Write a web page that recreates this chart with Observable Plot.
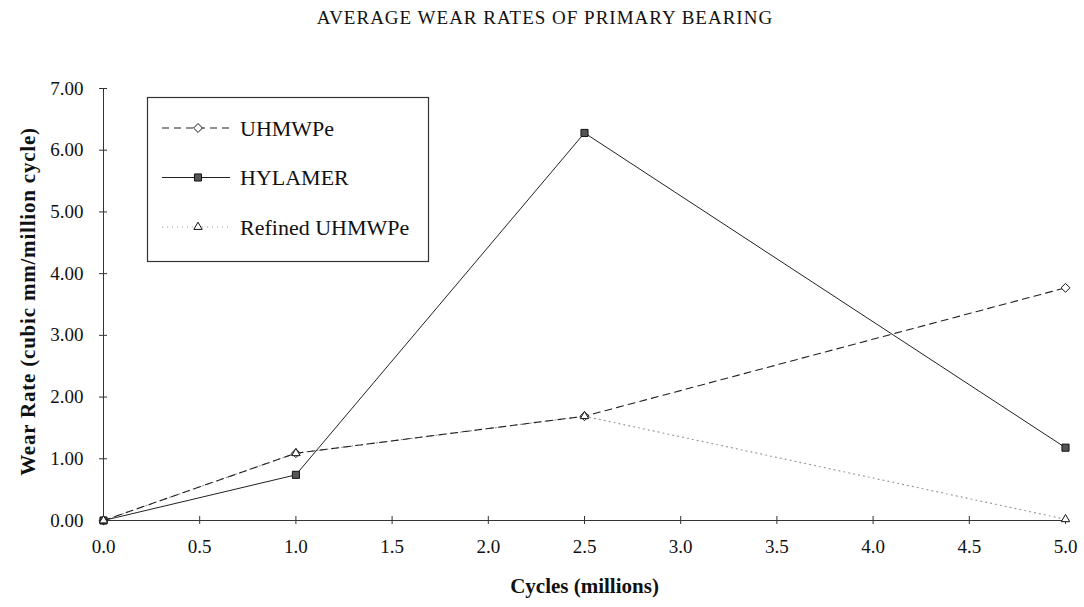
<!DOCTYPE html>
<html><head><meta charset="utf-8">
<script src="https://cdn.jsdelivr.net/npm/d3@7"></script>
<script src="https://cdn.jsdelivr.net/npm/@observablehq/plot@0.6"></script>
<style>
body{margin:0;background:#fff;}
#wrap{position:relative;width:1084px;height:607px;font-family:"Liberation Serif","Times New Roman",serif;color:#111;}
#title{position:absolute;top:7px;left:0;width:1090px;text-align:center;font-size:19px;letter-spacing:1px;}
#legend{position:absolute;left:0;top:0;}
</style></head>
<body><div id="wrap"><div id="title">AVERAGE WEAR RATES OF PRIMARY BEARING</div></div>
<script>
const cycles = [0, 1, 2.5, 5];
const uhmwpe = [0, 1.09, 1.69, 3.77];
const hylamer = [0, 0.74, 6.28, 1.18];
const refined = [0, 1.09, 1.69, 0.02];
const seriesNames = ["UHMWPe", "HYLAMER", "Refined UHMWPe"];
const xTicks = [0, 0.5, 1, 1.5, 2, 2.5, 3, 3.5, 4, 4.5, 5];
const yTicks = [0, 1, 2, 3, 4, 5, 6, 7];
const xLabel = "Cycles (millions)";
const yLabel = "Wear Rate (cubic mm/million cycle)";

const mk = (name, vals) => cycles.map((c, i) => ({series: name, x: c, y: vals[i]}));
const dU = mk(seriesNames[0], uhmwpe);
const dH = mk(seriesNames[1], hylamer);
const dR = mk(seriesNames[2], refined);

const styles = {
  "UHMWPe": {stroke: "#222", dash: "7,5", width: 1.1, symbol: "diamond2", fill: "white"},
  "HYLAMER": {stroke: "#222", dash: null, width: 1, symbol: "square", fill: "#555"},
  "Refined UHMWPe": {stroke: "#999", dash: "1,4", width: 1.2, symbol: "triangle2", fill: "white"}
};

const lineMark = (d, s) => Plot.line(d, {x: "x", y: "y", stroke: s.stroke, strokeWidth: s.width, strokeDasharray: s.dash});
const dotMark = (d, s) => Plot.dot(d, {x: "x", y: "y", symbol: s.symbol, r: 4, stroke: "#111", strokeWidth: 1, fill: s.fill});

const plot = Plot.plot({
  width: 1084, height: 607,
  marginLeft: 103, marginRight: 19, marginTop: 88, marginBottom: 87,
  x: {domain: [0, 5]},
  y: {domain: [0, 7]},
  style: {fontFamily: "'Liberation Serif', 'Times New Roman', serif", fontSize: "19px", background: "white", color: "#111", overflow: "visible"},
  marks: [
    Plot.ruleX([0], {y1: 0, y2: 7, stroke: "#333"}),
    Plot.ruleY([0], {x1: 0, x2: 5, stroke: "#333"}),
    Plot.axisX({ticks: xTicks, tickSize: 8, dy: -4, text: null, label: null, stroke: "#333"}),
    Plot.axisX({ticks: xTicks, tickSize: 0, tickPadding: 19, fontSize: 19, tickFormat: d3.format(".1f"), label: null}),
    Plot.axisY({ticks: yTicks, tickSize: 8, dx: 4, text: null, label: null, stroke: "#333"}),
    Plot.axisY({ticks: yTicks, tickSize: 0, tickPadding: 20, fontSize: 19, tickFormat: d3.format(".2f"), label: null}),
    lineMark(dR, styles["Refined UHMWPe"]),
    lineMark(dU, styles["UHMWPe"]),
    lineMark(dH, styles["HYLAMER"]),
    dotMark(dU, styles["UHMWPe"]),
    dotMark(dH, styles["HYLAMER"]),
    dotMark(dR, styles["Refined UHMWPe"]),
    Plot.text([xLabel], {frameAnchor: "bottom", dy: 66, lineAnchor: "middle", fontWeight: "bold", fontSize: 21, text: d => d}),
    Plot.text([yLabel], {frameAnchor: "left", textAnchor: "middle", dx: -75, dy: -3, rotate: -90, lineAnchor: "middle", fontWeight: "bold", fontSize: 21, text: d => d})
  ]
});
plot.style.position = "absolute";
plot.style.left = "0px";
plot.style.top = "0px";
const wrap = document.getElementById("wrap");
wrap.insertBefore(plot, wrap.firstChild);
d3.select(plot).selectAll("text").filter(function() { return this.textContent === yLabel; }).style("letter-spacing", "0.8px");

// legend
const lg = d3.select(wrap).append("svg").attr("id", "legend").attr("width", 1084).attr("height", 607)
  .style("position", "absolute").style("left", "0px").style("top", "0px");
lg.append("rect").attr("x", 147.5).attr("y", 97.5).attr("width", 281).attr("height", 164)
  .attr("fill", "white").attr("stroke", "#333").attr("stroke-width", 1.2);
const symMap = {diamond2: d3.symbolDiamond2, square: d3.symbolSquare, triangle2: d3.symbolTriangle2};
seriesNames.forEach((name, i) => {
  const s = styles[name];
  const y = 128 + i * 49.5;
  lg.append("line").attr("x1", 162).attr("x2", 230).attr("y1", y).attr("y2", y)
    .attr("stroke", s.stroke).attr("stroke-width", s.width).attr("stroke-dasharray", s.dash);
  lg.append("path").attr("d", d3.symbol(symMap[s.symbol], Math.PI * 16)()).attr("transform", `translate(198,${y})`)
    .attr("fill", s.fill).attr("stroke", "#111");
  lg.append("text").attr("x", 240).attr("y", y).attr("dy", "0.35em").attr("font-size", 22)
    .attr("font-family", "'Liberation Serif', 'Times New Roman', serif").attr("fill", "#111").text(name);
});
</script>
</body></html>
